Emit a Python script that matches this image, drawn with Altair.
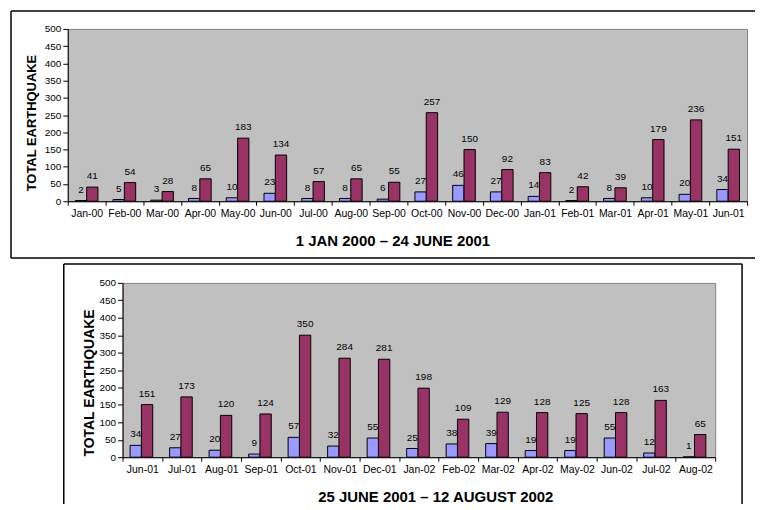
import altair as alt
import pandas as pd

# ---- data ----
months_top = ["Jan-00", "Feb-00", "Mar-00", "Apr-00", "May-00", "Jun-00",
              "Jul-00", "Aug-00", "Sep-00", "Oct-00", "Nov-00", "Dec-00",
              "Jan-01", "Feb-01", "Mar-01", "Apr-01", "May-01", "Jun-01"]
blue_top = [2, 5, 3, 8, 10, 23, 8, 8, 6, 27, 46, 27, 14, 2, 8, 10, 20, 34]
red_top = [41, 54, 28, 65, 183, 134, 57, 65, 55, 257, 150, 92, 83, 42, 39, 179, 236, 151]

months_bot = ["Jun-01", "Jul-01", "Aug-01", "Sep-01", "Oct-01", "Nov-01",
              "Dec-01", "Jan-02", "Feb-02", "Mar-02", "Apr-02", "May-02",
              "Jun-02", "Jul-02", "Aug-02"]
blue_bot = [34, 27, 20, 9, 57, 32, 55, 25, 38, 39, 19, 19, 55, 12, 1]
red_bot = [151, 173, 120, 124, 350, 284, 281, 198, 109, 129, 128, 125, 128, 163, 65]

series_names = ["Series 1", "Series 2"]
colors = ["#9999FF", "#993366"]
y_ticks = list(range(0, 501, 50))

FONT = "Liberation Sans"
one = pd.DataFrame({"k": [0]})


def line(x, y, x2=None, y2=None, color="black", width=1.5):
    enc = {"x": alt.value(x), "y": alt.value(y)}
    if x2 is not None:
        enc["x2"] = alt.value(x2)
    if y2 is not None:
        enc["y2"] = alt.value(y2)
    return alt.Chart(one).mark_rule(color=color, strokeWidth=width).encode(**enc)


def spacer(w):
    return alt.Chart(one).mark_point(size=0.5, opacity=0).encode(
        x=alt.value(0.5), y=alt.value(0.5)).properties(width=w, height=1)


def panel(months, blue, red, w, h, title, title_x, title_y,
          ytitle_x, ytitle_y, ytitle_size, frame_lines):
    df = pd.DataFrame({
        "month": months * 2,
        "series": [series_names[0]] * len(months) + [series_names[1]] * len(months),
        "value": blue + red,
    })
    base = alt.Chart(df).encode(
        x=alt.X("month:N", sort=months,
                scale=alt.Scale(paddingInner=0, paddingOuter=0),
                axis=alt.Axis(title=title, labelAngle=0, tickBand="extent",
                              tickSize=4, labelPadding=3, labelFontSize=10.5,
                              titleFontSize=15, titleFontWeight="bold",
                              titleX=title_x, titleY=title_y,
                              titleAlign="center", titleBaseline="middle")),
        xOffset=alt.XOffset("series:N",
                            scale=alt.Scale(domain=series_names,
                                            paddingInner=0, paddingOuter=0.667)),
        y=alt.Y("value:Q", scale=alt.Scale(domain=[0, 500], nice=False),
                axis=alt.Axis(title="TOTAL EARTHQUAKE", values=y_ticks,
                              grid=False, tickSize=5, labelPadding=2,
                              labelFontSize=10, titleFontSize=ytitle_size,
                              titleFontWeight="bold", titleX=ytitle_x,
                              titleY=ytitle_y, titleAlign="center",
                              titleBaseline="middle", titleAngle=270)),
    )
    layers = []
    for s, c in zip(series_names, colors):
        sub = base.transform_filter(alt.datum.series == s)
        layers.append(sub.mark_bar(color=c, stroke="black", strokeWidth=1))
        layers.append(sub.mark_text(dy=-11, fontSize=10, font=FONT,
                                    color="black").encode(text="value:Q"))
    for fl in frame_lines:
        layers.append(line(**fl))
    return alt.layer(*layers).properties(
        width=w, height=h,
        view=alt.ViewBackground(fill="#C0C0C0", stroke="#808080", strokeWidth=1))


top = panel(months_top, blue_top, red_top, 682, 173,
            "1 JAN 2000 \u2013 24 JUNE 2001", 326, 39,
            -36, 94, 13,
            [dict(x=-57, x2=690, y=-18),
             dict(x=-57, y=-18, y2=230),
             dict(x=-57, x2=690, y=230)])
bottom = panel(months_bot, blue_bot, red_bot, 595, 175,
               "25 JUNE 2001 \u2013 12 AUGUST 2002", 314, 39,
               -33, 100, 14,
               [dict(x=-59, x2=622, y=-19),
                dict(x=-59, y=-19, y2=222),
                dict(x=622, y=-19, y2=222)])

row1 = alt.hconcat(spacer(1), top, spacing=0)
row2 = alt.hconcat(spacer(54), bottom, spacing=0)

chart = alt.vconcat(row1, row2, spacing=2).properties(
    padding={"left": 0, "top": 0, "right": 0, "bottom": 0}
).configure_view(
    strokeWidth=0
).configure_axis(
    domainColor="black", tickColor="black", labelColor="black",
    titleColor="black", labelFont=FONT, titleFont=FONT, domainWidth=1
)

chart.save("out.html", embed_options={"renderer": "svg", "actions": False})
